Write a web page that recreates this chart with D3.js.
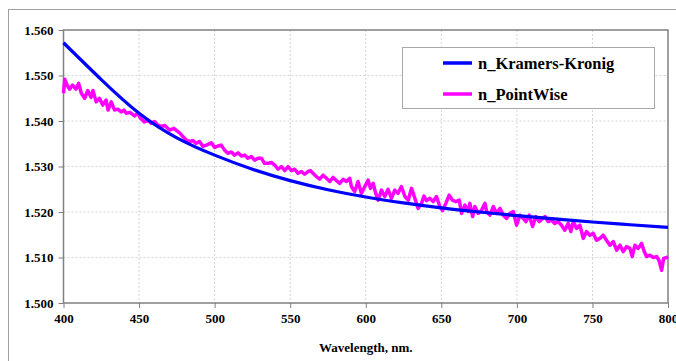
<!DOCTYPE html>
<html>
<head>
<meta charset="utf-8">
<script src="https://cdn.jsdelivr.net/npm/d3@7"></script>
<style>
  body { margin: 0; background: #fff; }
  svg text { font-family: "Liberation Serif", "Times New Roman", "DejaVu Serif", serif !important; font-weight: bold; fill: #000; }
</style>
</head>
<body>
<div class="container"></div>
<script>
//data
const xTicks = [400, 450, 500, 550, 600, 650, 700, 750, 800];
const yTicks = [1.500, 1.510, 1.520, 1.530, 1.540, 1.550, 1.560];
const seriesNames = ["n_Kramers-Kronig", "n_PointWise"];

//Kramers-Kronig curve (smooth)
const kkWl = [400, 425, 450, 475, 500, 525, 550, 575, 600, 625, 650, 675, 700, 725, 750, 775, 800];
const kkN = [1.5572, 1.5491, 1.5417, 1.5363, 1.5325, 1.5294, 1.5269, 1.5249, 1.5233, 1.5220, 1.5209,
             1.5200, 1.5192, 1.5185, 1.5178, 1.5172, 1.5166];

//point wise curve (noisy)
const pwWl = [400.0, 400.8, 402.5, 404.0, 406.0, 408.2, 410.0, 411.8, 414.0, 416.0, 418.2, 419.5, 421.6, 423.8,
  426.0, 428.2, 429.5, 431.6, 433.8, 436.0, 438.2, 440.0, 441.5, 444.0, 447.0, 449.0, 451.0, 453.5, 456.0,
  458.0, 460.2, 462.5, 464.7, 467.0, 470.2, 473.0, 476.8, 479.0, 481.3, 483.5, 485.6, 487.8, 490.0, 492.3,
  494.5, 497.8, 500.0, 502.2, 504.4, 506.6, 508.8, 511.0, 513.2, 515.5, 517.7, 520.0, 522.0, 524.3, 526.5,
  528.7, 531.0, 533.0, 535.3, 537.5, 539.8, 542.0, 544.2, 546.4, 548.6, 550.8, 553.0, 555.2, 557.4, 559.6,
  561.8, 563.5, 565.1, 567.3, 569.5, 571.8, 574.0, 576.2, 578.4, 580.6, 582.8, 585.0, 587.2, 589.4, 590.5,
  592.7, 594.9, 597.1, 599.4, 601.6, 603.1, 604.9, 606.6, 608.2, 610.4, 612.6, 614.8, 617.0, 619.2, 621.4,
  623.6, 625.9, 628.1, 630.3, 632.5, 634.7, 636.9, 638.5, 640.2, 642.4, 644.6, 646.8, 649.0, 650.8, 653.0,
  655.2, 657.4, 659.6, 661.9, 663.4, 665.6, 667.8, 668.9, 670.7, 672.2, 674.4, 676.6, 678.9, 680.0, 682.2,
  684.4, 686.6, 688.8, 691.0, 693.2, 695.4, 697.6, 699.8, 702.0, 704.2, 706.0, 708.2, 710.4, 712.6, 714.8,
  717.1, 718.6, 720.7, 722.9, 725.1, 727.3, 729.5, 731.7, 734.0, 735.7, 737.3, 739.5, 741.7, 743.9, 746.1,
  748.3, 750.5, 752.7, 754.9, 757.1, 759.3, 761.6, 763.8, 766.0, 768.2, 770.4, 772.6, 774.8, 776.3, 778.1,
  780.3, 782.5, 784.3, 785.8, 788.0, 790.3, 792.5, 794.0, 795.8, 797.1, 799.1, 800.0];
const pwN = [1.5461, 1.5492, 1.5478, 1.5470, 1.5479, 1.5470, 1.5483, 1.5461, 1.5450, 1.5467, 1.5452, 1.5467, 1.5442, 1.5450,
  1.5435, 1.5446, 1.5424, 1.5442, 1.5424, 1.5426, 1.5420, 1.5424, 1.5417, 1.5419, 1.5411, 1.5417, 1.5406, 1.5398, 1.5402,
  1.5395, 1.5399, 1.5391, 1.5388, 1.5390, 1.5380, 1.5384, 1.5374, 1.5366, 1.5358, 1.5355, 1.5357, 1.5351, 1.5355, 1.5344,
  1.5347, 1.5352, 1.5342, 1.5345, 1.5347, 1.5336, 1.5329, 1.5332, 1.5325, 1.5330, 1.5323, 1.5325, 1.5318, 1.5322, 1.5314,
  1.5318, 1.5318, 1.5307, 1.5307, 1.5309, 1.5303, 1.5294, 1.5300, 1.5291, 1.5300, 1.5291, 1.5294, 1.5285, 1.5289, 1.5283,
  1.5289, 1.5291, 1.5285, 1.5278, 1.5272, 1.5281, 1.5274, 1.5267, 1.5276, 1.5269, 1.5263, 1.5272, 1.5267, 1.5274, 1.5256,
  1.5245, 1.5267, 1.5241, 1.5256, 1.5270, 1.5252, 1.5263, 1.5241, 1.5226, 1.5248, 1.5234, 1.5250, 1.5230, 1.5248, 1.5241,
  1.5256, 1.5234, 1.5226, 1.5252, 1.5230, 1.5208, 1.5219, 1.5235, 1.5225, 1.5230, 1.5223, 1.5234, 1.5212, 1.5203, 1.5219,
  1.5237, 1.5226, 1.5223, 1.5226, 1.5197, 1.5215, 1.5201, 1.5219, 1.5190, 1.5212, 1.5197, 1.5204, 1.5219, 1.5201, 1.5193,
  1.5212, 1.5197, 1.5208, 1.5193, 1.5186, 1.5197, 1.5201, 1.5171, 1.5193, 1.5186, 1.5179, 1.5193, 1.5168, 1.5190, 1.5179,
  1.5186, 1.5190, 1.5179, 1.5182, 1.5175, 1.5179, 1.5171, 1.5160, 1.5175, 1.5157, 1.5179, 1.5164, 1.5171, 1.5142, 1.5157,
  1.5149, 1.5153, 1.5138, 1.5142, 1.5149, 1.5138, 1.5127, 1.5135, 1.5116, 1.5127, 1.5113, 1.5124, 1.5120, 1.5102, 1.5127,
  1.5120, 1.5131, 1.5113, 1.5102, 1.5105, 1.5100, 1.5102, 1.5094, 1.5072, 1.5098, 1.5100, 1.5102];

const colors = ["#0000ff", "#ff00ff"];
const serif = '"Liberation Serif", "Times New Roman", "DejaVu Serif", serif';

//dimensions
const width = 676, height = 361;
const plot = {left: 63.5, right: 668, top: 30, bottom: 303};

const svg = d3.select(".container").append("svg")
    .attr("width", width)
    .attr("height", height);

//outer chart border (runs off the right/bottom edge)
svg.append("rect")
    .attr("x", 8.5).attr("y", 9.5)
    .attr("width", 700).attr("height", 400)
    .attr("fill", "#fff")
    .attr("stroke", "#a0a0a0")
    .attr("stroke-width", 1);

//scales
const scaleX = d3.scaleLinear().domain([400, 800]).range([plot.left, plot.right]);
const scaleY = d3.scaleLinear().domain([1.500, 1.560]).range([plot.bottom, plot.top]);

//grid
const grid = svg.append("g").attr("stroke", "#d4d4d4").attr("stroke-dasharray", "2,2");
grid.selectAll(".gx")
    .data(xTicks.slice(1, -1))
    .enter().append("line")
    .attr("x1", d => scaleX(d)).attr("x2", d => scaleX(d))
    .attr("y1", plot.top).attr("y2", plot.bottom);
grid.selectAll(".gy")
    .data(yTicks.slice(1, -1))
    .enter().append("line")
    .attr("x1", plot.left).attr("x2", plot.right)
    .attr("y1", d => scaleY(d)).attr("y2", d => scaleY(d));

//axes
const xAxis = d3.axisBottom(scaleX).tickValues(xTicks).tickSize(5).tickPadding(6);
const yAxis = d3.axisLeft(scaleY).tickValues(yTicks).tickFormat(d3.format(".3f")).tickSize(5).tickPadding(5);

const xAxisGroup = svg.append("g")
    .attr("transform", `translate(0, ${plot.bottom})`)
    .call(xAxis);
const yAxisGroup = svg.append("g")
    .attr("transform", `translate(${plot.left}, 0)`)
    .call(yAxis);

[xAxisGroup, yAxisGroup].forEach(g => {
  g.attr("font-family", serif).attr("font-size", 13);
  g.select(".domain").remove();
  g.selectAll("line").attr("stroke", "#808080");
  g.selectAll("text").attr("fill", "#000");
});

//plot border
svg.append("rect")
    .attr("x", plot.left).attr("y", plot.top)
    .attr("width", plot.right - plot.left)
    .attr("height", plot.bottom - plot.top)
    .attr("fill", "none")
    .attr("stroke", "#808080")
    .attr("stroke-width", 1.5);

//lines
const kkLine = d3.line()
    .x((d, i) => scaleX(kkWl[i]))
    .y(d => scaleY(d))
    .curve(d3.curveNatural);
const pwLine = d3.line()
    .x((d, i) => scaleX(pwWl[i]))
    .y(d => scaleY(d));

svg.append("path")
    .datum(pwN)
    .attr("d", pwLine)
    .attr("fill", "none")
    .attr("stroke", colors[1])
    .attr("stroke-width", 3.5)
    .attr("stroke-linejoin", "round");

svg.append("path")
    .datum(kkN)
    .attr("d", kkLine)
    .attr("fill", "none")
    .attr("stroke", colors[0])
    .attr("stroke-width", 3.2);

//legend
const legend = svg.append("g").attr("font-family", serif);
legend.append("rect")
    .attr("x", 402.5).attr("y", 47.5)
    .attr("width", 252).attr("height", 61)
    .attr("fill", "#fff")
    .attr("stroke", "#a8a8a8");

const entries = legend.selectAll(".entry")
    .data(seriesNames)
    .enter().append("g")
    .attr("transform", (d, i) => `translate(443, ${63 + i * 31})`);
entries.append("line")
    .attr("x1", 0).attr("x2", 29)
    .attr("stroke", (d, i) => colors[i])
    .attr("stroke-width", 3.5);
entries.append("text")
    .attr("x", 35)
    .attr("dy", "0.35em")
    .attr("font-size", 16.5)
    .text(d => d);

//x axis title
svg.append("text")
    .attr("x", (plot.left + plot.right) / 2)
    .attr("y", 352)
    .attr("text-anchor", "middle")
    .attr("font-family", serif)
    .attr("font-size", 13)
    .text("Wavelength, nm.");
</script>
</body>
</html>
